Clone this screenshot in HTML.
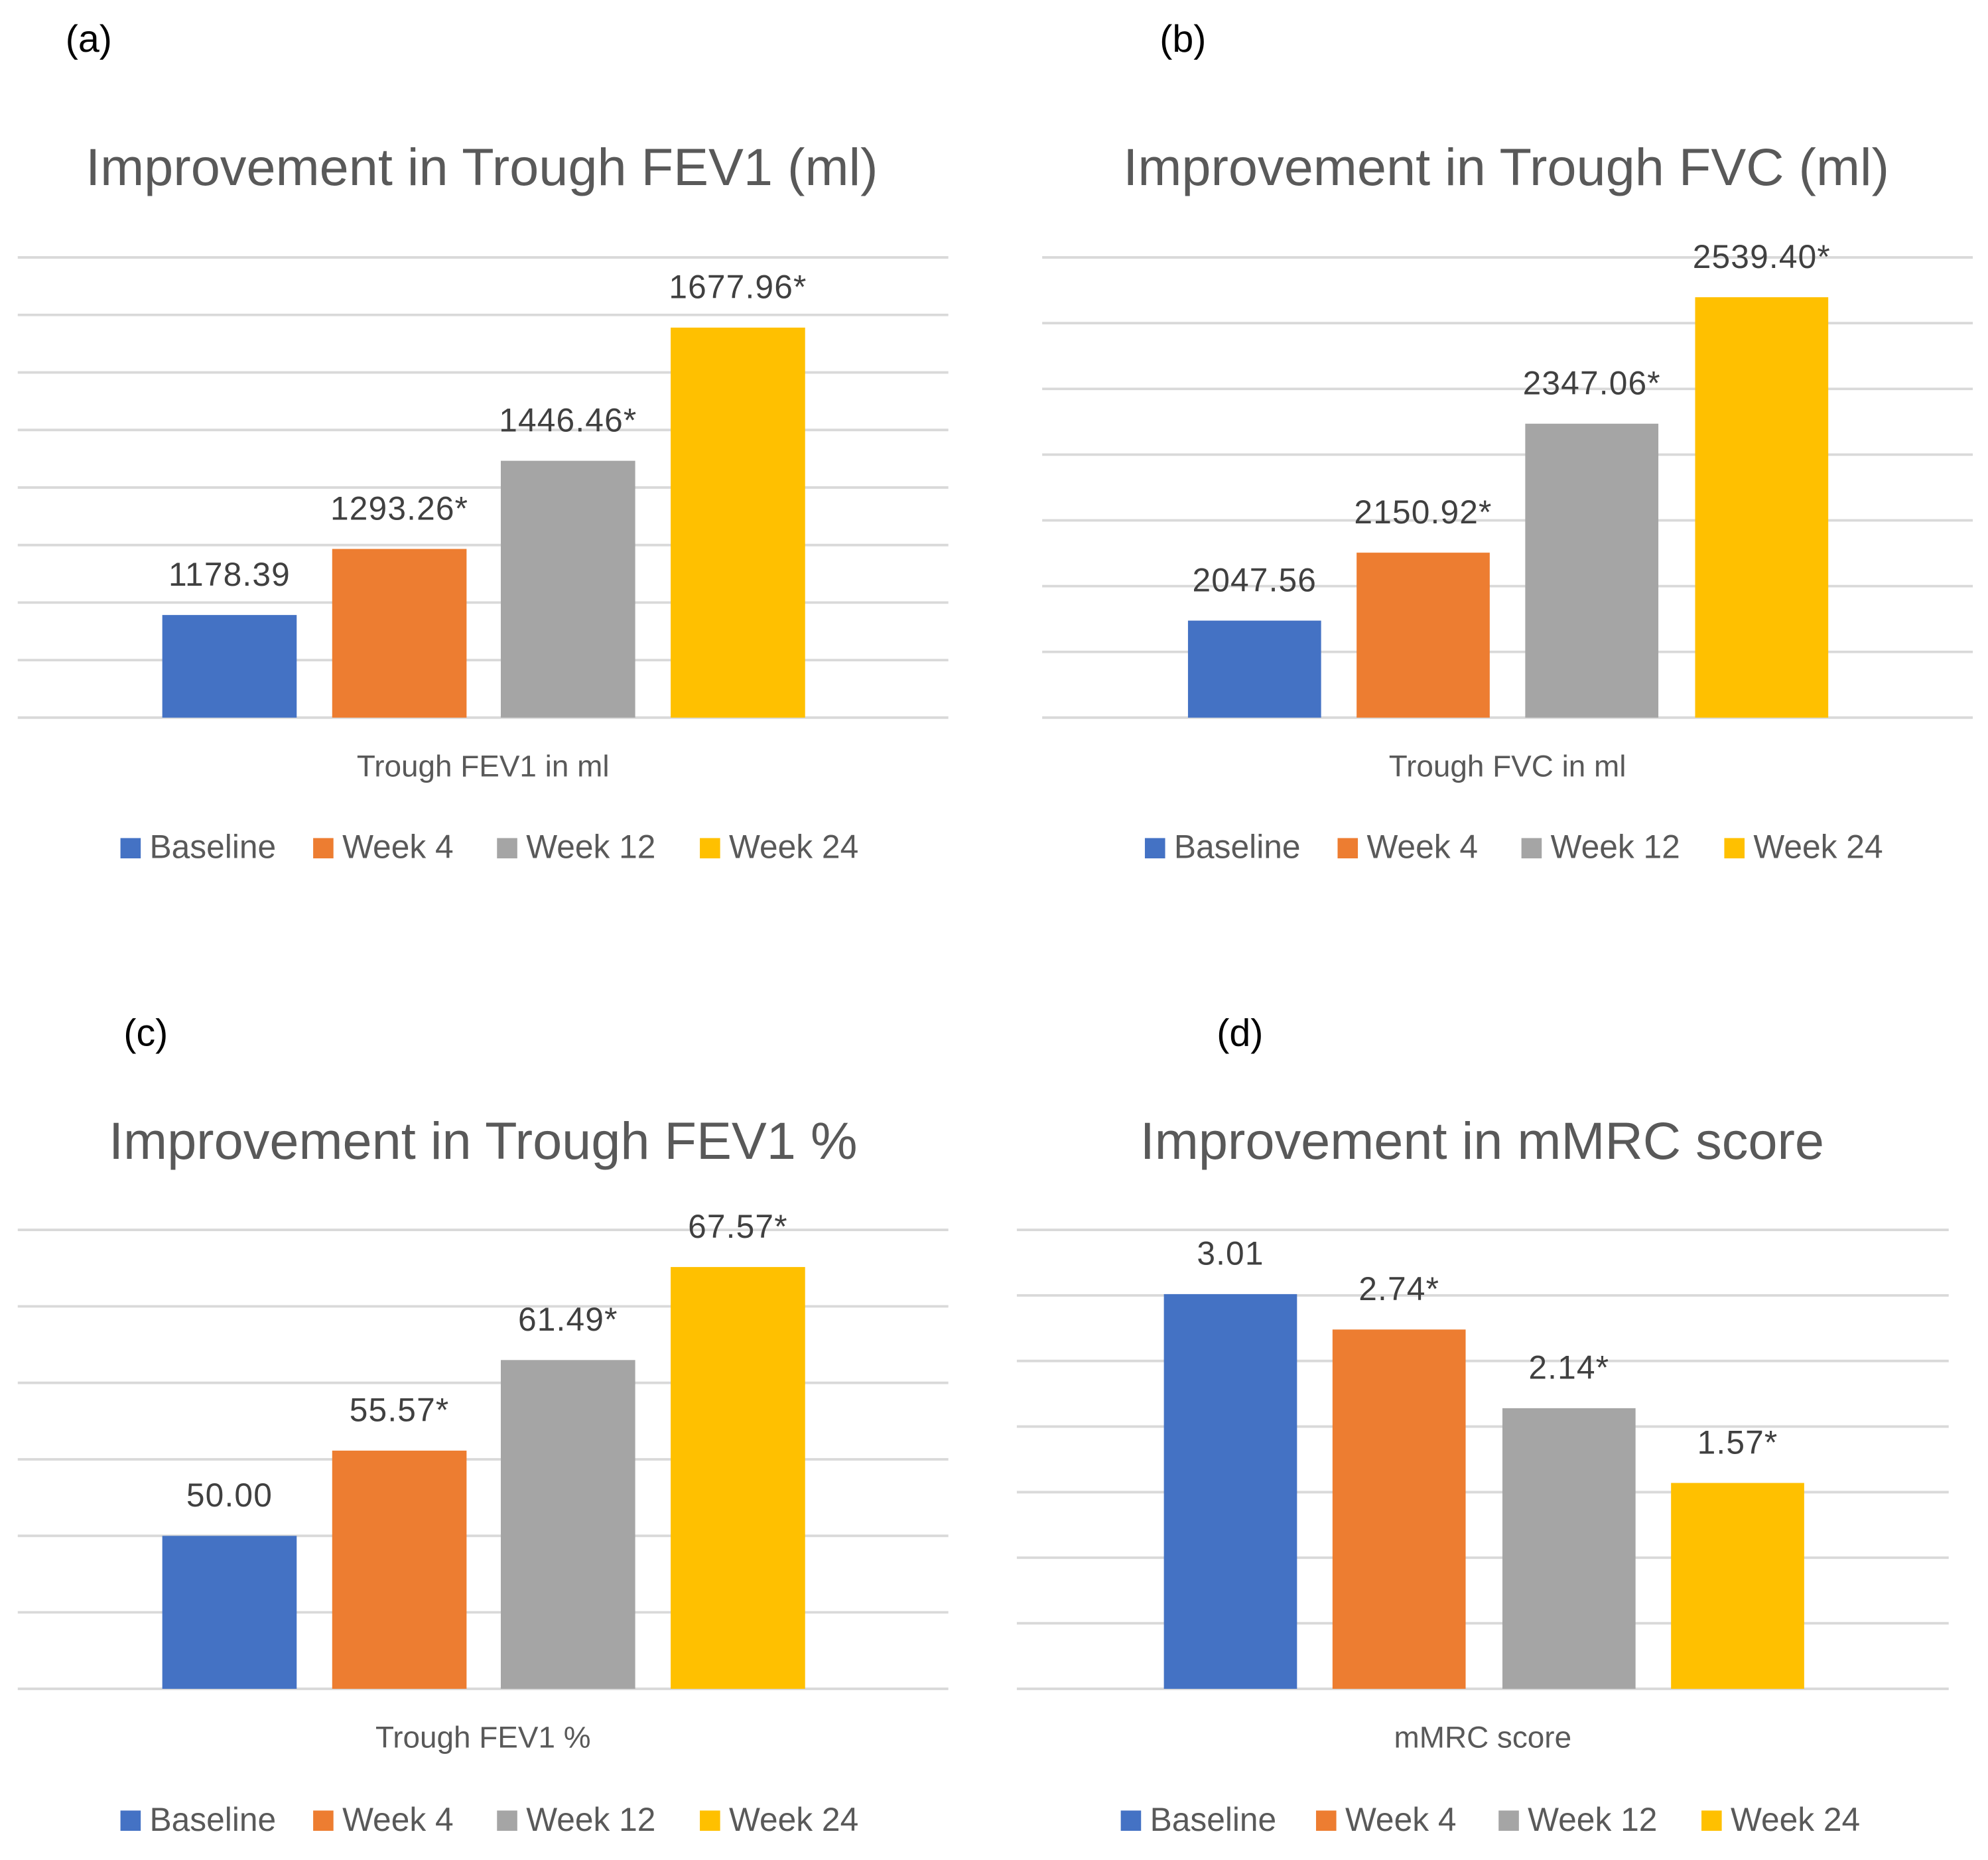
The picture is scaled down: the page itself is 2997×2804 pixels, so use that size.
<!DOCTYPE html>
<html><head><meta charset="utf-8"><style>
html,body{margin:0;padding:0;background:#fff}
svg{display:block}
text{font-family:"Liberation Sans",sans-serif}
</style></head><body>
<svg id="fig" width="2997" height="2804" viewBox="0 0 1568 1467" xmlns="http://www.w3.org/2000/svg"></svg>
<script>
const categories = ["Baseline","Week 4","Week 12","Week 24"];
const colors = ["#4472C4","#ED7D31","#A5A5A5","#FFC000"];
const valuesA = [1178.39,1293.26,1446.46,1677.96];
const labelsA = ["1178.39","1293.26*","1446.46*","1677.96*"];
const valuesB = [2047.56,2150.92,2347.06,2539.40];
const labelsB = ["2047.56","2150.92*","2347.06*","2539.40*"];
const valuesC = [50.00,55.57,61.49,67.57];
const labelsC = ["50.00","55.57*","61.49*","67.57*"];
const valuesD = [3.01,2.74,2.14,1.57];
const labelsD = ["3.01","2.74*","2.14*","1.57*"];

const panels = [
 {id:"a",tag:"(a)",tx:70,ty:33,title:"Improvement in Trough FEV1 (ml)",tcx:380,tcy:135,xl:"Trough FEV1 in ml",
  vals:valuesA,labs:labelsA,min:1000,max:1800,step:100,top:203,bot:566,x0:14,x1:748,bars:[128,262,395,529],bw:106,
  legY:669,legX:[95,247,392,552]},
 {id:"b",tag:"(b)",tx:933,ty:33,title:"Improvement in Trough FVC (ml)",tcx:1188,tcy:135,xl:"Trough FVC in ml",
  vals:valuesB,labs:labelsB,min:1900,max:2600,step:100,top:203,bot:566,x0:822,x1:1556,bars:[937,1070,1203,1337],bw:105,
  legY:669,legX:[903,1055,1200,1360]},
 {id:"c",tag:"(c)",tx:115,ty:817,title:"Improvement in Trough FEV1 %",tcx:381,tcy:903,xl:"Trough FEV1 %",
  vals:valuesC,labs:labelsC,min:40,max:70,step:5,top:970,bot:1332,x0:14,x1:748,bars:[128,262,395,529],bw:106,
  legY:1436,legX:[95,247,392,552]},
 {id:"d",tag:"(d)",tx:978,ty:817,title:"Improvement in mMRC score",tcx:1169,tcy:903,xl:"mMRC score",
  vals:valuesD,labs:labelsD,min:0,max:3.5,step:0.5,top:970,bot:1332,x0:802,x1:1537,bars:[918,1051,1185,1318],bw:105,
  legY:1436,legX:[884,1038,1182,1342]}
];
const NS="http://www.w3.org/2000/svg";
const svg=document.getElementById("fig");
function mk(tag,attrs,parent){const e=document.createElementNS(NS,tag);for(const k in attrs)e.setAttribute(k,attrs[k]);(parent||svg).appendChild(e);return e;}
panels.forEach(p=>{
  const g=mk("g",{});
  
  
  const y=v=>p.bot-(v-p.min)/(p.max-p.min)*(p.bot-p.top);
  const t1=mk("text",{x:p.tx,y:p.ty,"font-size":30,fill:"#000","text-anchor":"middle","dominant-baseline":"middle"},g);
  t1.textContent=p.tag;
  
  
  const t2=mk("text",{x:p.tcx,y:p.tcy,"font-size":41.5,fill:"#595959","text-anchor":"middle","dominant-baseline":"middle"},g);
  t2.textContent=p.title;
  
  
  for(let v=p.min;v<=p.max+1e-9;v+=p.step){
    const l=mk("line",{x1:p.x0,x2:p.x1,y1:y(v),y2:y(v),stroke:"#D9D9D9","stroke-width":2},g);
    
    
  }
  p.vals.forEach((v,i)=>{
    const r=mk("rect",{x:p.bars[i],y:y(v),width:p.bw,height:p.bot-y(v),fill:colors[i]},g);
    
    
    const t=mk("text",{x:p.bars[i]+p.bw/2,y:y(v)-30,"font-size":26,"letter-spacing":0.6,fill:"#404040","text-anchor":"middle","dominant-baseline":"middle"},g);
    t.textContent=p.labs[i];
    
    
  });
  const xl=mk("text",{x:(p.x0+p.x1)/2,y:p.bot+40,"font-size":24,fill:"#595959","text-anchor":"middle","dominant-baseline":"middle"},g);
  xl.textContent=p.xl;
  
  
  categories.forEach((c,i)=>{
    const lg=mk("g",{},g);
    
    
    mk("rect",{x:p.legX[i],y:p.legY-8,width:16,height:16,fill:colors[i]},lg);
    const t=mk("text",{x:p.legX[i]+23,y:p.legY+1,"font-size":26,fill:"#595959","dominant-baseline":"middle"},lg);
    t.textContent=c;
  });
});
</script>
</body></html>
